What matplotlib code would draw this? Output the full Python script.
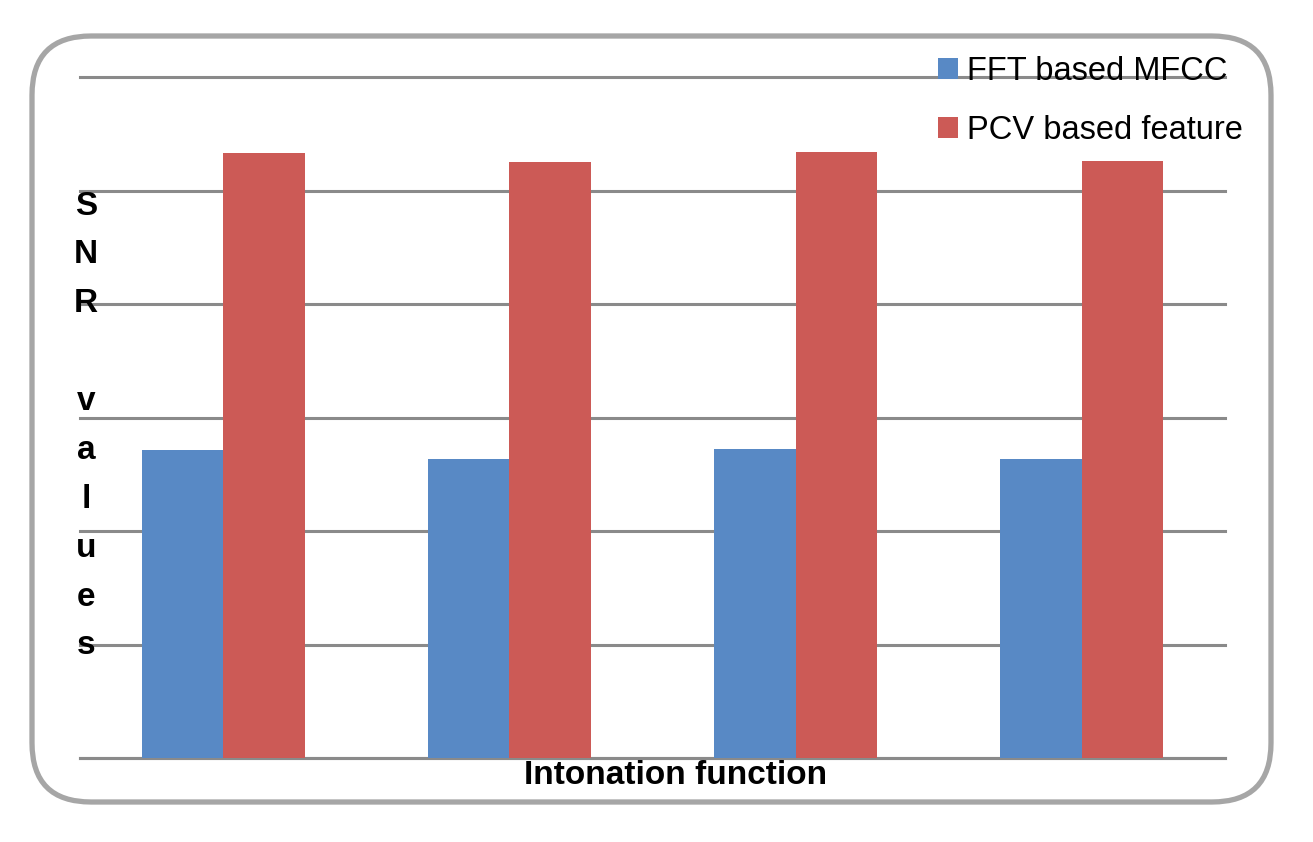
import numpy as np
import matplotlib.pyplot as plt
from matplotlib.patches import FancyBboxPatch

plt.rcParams['font.family'] = ['Liberation Sans', 'DejaVu Sans']

# Данные (значения SNR)
categories = ['1', '2', '3', '4']
fft_mfcc = [27.1, 26.3, 27.2, 26.3]
pcv_feature = [53.3, 52.5, 53.4, 52.6]

blue = '#5889c5'
red = '#cc5a56'
grid_col = '#8a8a8a'

fig = plt.figure(figsize=(13.13, 8.42), dpi=100)

# Рамка со скруглёнными углами
frame = FancyBboxPatch((32 / 1313, 40 / 842), 1239 / 1313, 766 / 842,
                       boxstyle='round,pad=0,rounding_size=0.045',
                       transform=fig.transFigure, facecolor='none',
                       edgecolor='#a6a6a6', linewidth=3.8, mutation_aspect=1313 / 842)
fig.patches.append(frame)

ax = fig.add_axes([80 / 1313, 84 / 842, 1145 / 1313, 681 / 842])

x = np.arange(len(categories))
w = 0.285
ax.bar(x - w / 2, fft_mfcc, width=w, color=blue, label='FFT based MFCC', zorder=3)
ax.bar(x + w / 2, pcv_feature, width=w, color=red, label='PCV based feature', zorder=3)

ax.set_xlim(-0.5, len(categories) - 0.5)
ax.set_ylim(0, 60)
ax.set_yticks(np.arange(0, 61, 10))
ax.grid(axis='y', color=grid_col, linewidth=2.2, zorder=1)
for gl in ax.yaxis.get_gridlines():
    gl.set_clip_on(False)
ax.set_xticks([])
ax.tick_params(axis='y', length=0, labelleft=False)
for s in ['top', 'right', 'left']:
    ax.spines[s].set_visible(False)
ax.spines['bottom'].set_color(grid_col)
ax.spines['bottom'].set_linewidth(2.2)

# Подписи осей
fig.text(676 / 1313, 1 - 775 / 842, 'Intonation function', fontsize=24,
         fontweight='bold', ha='center', va='center')
fig.text(86 / 1313, 1 - 426 / 842, 'S\nN\nR\n\nv\na\nl\nu\ne\ns', fontsize=24,
         fontweight='bold', ha='center', va='center', linespacing=1.745)

leg = ax.legend(loc='upper left', bbox_to_anchor=(925 / 1313, 1 - 43 / 842),
                bbox_transform=fig.transFigure, frameon=False, fontsize=23.5,
                handlelength=0.6, handleheight=0.6, handletextpad=0.3,
                labelspacing=0.85, borderaxespad=0)

fig.savefig('out.png', dpi=100)
